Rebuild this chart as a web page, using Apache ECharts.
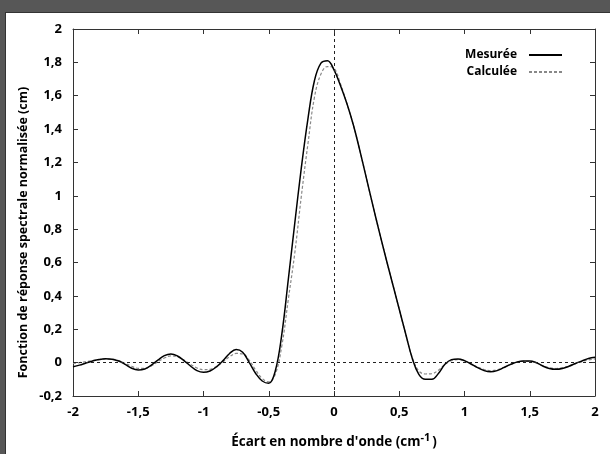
<!DOCTYPE html>
<html>
<head>
<meta charset="utf-8">
<script src="https://cdn.jsdelivr.net/npm/echarts@6/dist/echarts.min.js"></script>
<style>
    html, body { margin: 0; padding: 0; }
    body { width: 610px; height: 454px; background: #575757; position: relative; overflow: hidden; }
    #panel {
        position: absolute; left: 5px; top: 12px; width: 604px; height: 441px;
        background: #fff; border-left: 1px solid #333; border-top: 1px solid #333;
    }
    #chart { width: 604px; height: 441px; }
</style>
</head>
<body>
<div id="panel"><div id="chart"></div></div>
<script>
// abscisses communes (cm-1)
const ecarts = [
    -2.00, -1.95, -1.90, -1.85, -1.80, -1.75, -1.70, -1.65, -1.60, -1.55,
    -1.50, -1.45, -1.40, -1.35, -1.30, -1.25, -1.20, -1.15, -1.10, -1.05,
    -1.00, -0.95, -0.90, -0.85, -0.80, -0.75, -0.70, -0.65, -0.60, -0.55,
    -0.50, -0.45, -0.40, -0.35, -0.30, -0.25, -0.20, -0.15, -0.10, -0.05,
    0.00, 0.05, 0.10, 0.15, 0.20, 0.25, 0.30, 0.35, 0.40, 0.45,
    0.50, 0.55, 0.60, 0.65, 0.70, 0.75, 0.80, 0.85, 0.90, 0.95,
    1.00, 1.05, 1.10, 1.15, 1.20, 1.25, 1.30, 1.35, 1.40, 1.45,
    1.50, 1.55, 1.60, 1.65, 1.70, 1.75, 1.80, 1.85, 1.90, 1.95,
    2.00
];

// réponse mesurée
const mesuree = [
    -0.025, -0.015, -0.002, 0.010, 0.019, 0.023, 0.021, 0.010, -0.010, -0.034,
    -0.044, -0.038, -0.015, 0.015, 0.042, 0.052, 0.040, 0.012, -0.020, -0.048,
    -0.058, -0.050, -0.025, 0.012, 0.055, 0.078, 0.062, 0.002, -0.065, -0.110,
    -0.124, -0.050, 0.170, 0.500, 0.840, 1.170, 1.460, 1.690, 1.795, 1.810,
    1.755, 1.660, 1.550, 1.420, 1.265, 1.100, 0.935, 0.775, 0.620, 0.470,
    0.320, 0.170, 0.025, -0.070, -0.100, -0.100, -0.065, -0.010, 0.018, 0.022,
    0.012, -0.008, -0.030, -0.048, -0.055, -0.048, -0.030, -0.012, 0.003, 0.010,
    0.010, 0.000, -0.020, -0.035, -0.040, -0.035, -0.022, -0.005, 0.010, 0.025,
    0.032
];

// réponse calculée
const calculee = [
    -0.005, 0.000, 0.006, 0.012, 0.018, 0.022, 0.021, 0.012, -0.004, -0.022,
    -0.034, -0.034, -0.020, 0.005, 0.028, 0.040, 0.035, 0.015, -0.010, -0.032,
    -0.042, -0.040, -0.022, 0.005, 0.035, 0.055, 0.052, 0.015, -0.045, -0.095,
    -0.115, -0.070, 0.100, 0.380, 0.660, 1.000, 1.310, 1.590, 1.730, 1.775,
    1.765, 1.670, 1.550, 1.420, 1.265, 1.100, 0.935, 0.775, 0.620, 0.470,
    0.320, 0.170, 0.030, -0.050, -0.068, -0.066, -0.045, -0.010, 0.012, 0.018,
    0.010, -0.008, -0.026, -0.042, -0.048, -0.043, -0.028, -0.012, 0.002, 0.008,
    0.008, -0.002, -0.018, -0.030, -0.035, -0.030, -0.020, -0.006, 0.006, 0.016,
    0.022
];

const nomsSeries = ['Mesurée', 'Calculée'];

const police = "'Open Sans', 'DejaVu Sans', sans-serif";

function virgule(v) {
    return String(Math.round(v * 10) / 10).replace('.', ',');
}

const chart = echarts.init(document.getElementById('chart'));

const axeX = {
    type: 'value', min: -2, max: 2, interval: 0.5,
    axisLine: { show: true, onZero: false, lineStyle: { color: '#333', width: 1 } },
    axisTick: { show: true, inside: true, length: 5, lineStyle: { color: '#333' } },
    splitLine: { show: false }
};
const axeY = {
    type: 'value', min: -0.2, max: 2, interval: 0.2,
    axisLine: { show: true, onZero: false, lineStyle: { color: '#333', width: 1 } },
    axisTick: { show: true, inside: true, length: 5, lineStyle: { color: '#333' } },
    splitLine: { show: false }
};

const option = {
    animation: false,
    grid: { left: 67, right: 15, top: 16, bottom: 55 },
    legend: {
        data: nomsSeries,
        orient: 'vertical',
        right: 42,
        top: 31,
        align: 'right',
        itemWidth: 33,
        itemHeight: 10,
        itemGap: 5,
        itemStyle: { opacity: 0 },
        textStyle: { fontFamily: police, fontSize: 12, fontWeight: 'bold', color: '#000', padding: [0, 7, 0, 0] }
    },
    xAxis: [
        Object.assign({}, axeX, {
            position: 'bottom',
            name: "Écart en nombre d'onde (cm{sup|-1})",
            nameLocation: 'middle',
            nameGap: 36,
            nameMoveOverlap: false,
            nameTextStyle: {
                fontFamily: police, fontSize: 13.5, fontWeight: 'bold', color: '#000',
                rich: { sup: { fontFamily: police, fontSize: 11, fontWeight: 'bold', color: '#000', verticalAlign: 'top', padding: [0, 2, 9, 0] } }
            },
            axisLabel: { margin: 10, fontFamily: police, fontSize: 13, fontWeight: 'bold', color: '#000', formatter: virgule }
        }),
        Object.assign({}, axeX, { position: 'top', axisLabel: { show: false } })
    ],
    yAxis: [
        Object.assign({}, axeY, {
            position: 'left',
            name: 'Fonction de réponse spectrale normalisée (cm)',
            nameLocation: 'middle',
            nameGap: 43,
            nameMoveOverlap: false,
            nameTextStyle: { fontFamily: police, fontSize: 12.5, fontWeight: 'bold', color: '#000', padding: [0, 40, 0, 0] },
            axisLabel: { margin: 11, fontFamily: police, fontSize: 13, fontWeight: 'bold', color: '#000', formatter: virgule }
        }),
        Object.assign({}, axeY, { position: 'right', axisLabel: { show: false } })
    ],
    series: [
        {
            name: nomsSeries[0],
            type: 'line',
            data: ecarts.map((x, i) => [x, mesuree[i]]),
            smooth: 0.4,
            symbol: 'none',
            lineStyle: { color: '#000', width: 1.5 },
            itemStyle: { color: '#000' },
            z: 3,
            markLine: {
                silent: true,
                symbol: ['none', 'none'],
                label: { show: false },
                lineStyle: { color: '#222', width: 1, type: [3, 3] },
                data: [{ yAxis: 0 }, { xAxis: 0 }]
            }
        },
        {
            name: nomsSeries[1],
            type: 'line',
            data: ecarts.map((x, i) => [x, calculee[i]]),
            smooth: 0.4,
            symbol: 'none',
            lineStyle: { color: '#888', width: 1.2, type: [3, 2] },
            itemStyle: { color: '#888' },
            z: 2
        }
    ]
};

chart.setOption(option);

window.addEventListener('resize', function() {
    chart.resize();
});
</script>
</body>
</html>
